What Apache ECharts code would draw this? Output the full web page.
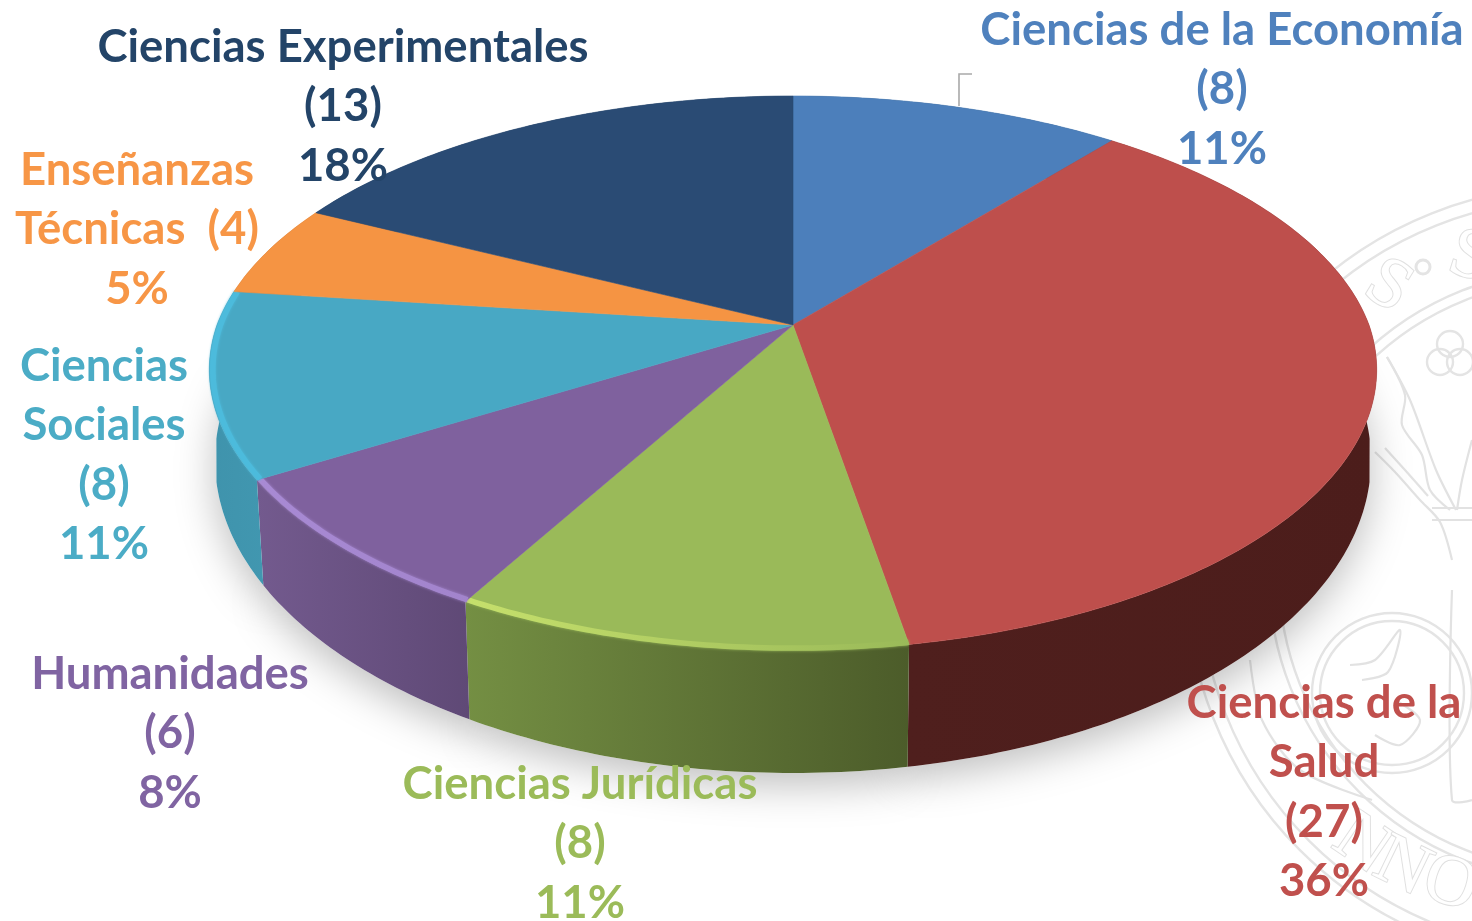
<!DOCTYPE html>
<html>
<head>
<meta charset="utf-8">
<title>Ramas de conocimiento</title>
<script src="https://cdn.jsdelivr.net/npm/echarts@6/dist/echarts.min.js"></script>
<style>
  html, body { margin: 0; padding: 0; background: #fff; }
  #chart { width: 1472px; height: 921px; }
</style>
</head>
<body>
<div id="chart"></div>
<script>
var categories = [
  "Ciencias de la Economía",
  "Ciencias de la Salud",
  "Ciencias Jurídicas",
  "Humanidades",
  "Ciencias Sociales",
  "Enseñanzas Técnicas",
  "Ciencias Experimentales",
];
var values = [8, 27, 8, 6, 8, 4, 13];
var labelLines = [
  ["Ciencias de la Economía"],
  ["Ciencias de la", "Salud"],
  ["Ciencias Jurídicas"],
  ["Humanidades"],
  ["Ciencias", "Sociales"],
  ["Enseñanzas", "Técnicas  (4)"],
  ["Ciencias Experimentales"],
];
var topColors = ["#4c7fbb", "#be4f4c", "#9aba59", "#7f619e", "#48a8c4", "#f59443", "#2a4b74"];
var textColors = ["#4f81bd", "#c0504d", "#9bbb59", "#8064a2", "#4bacc6", "#f79646", "#234468"];
var wallLeft = ["#2c4a6e", "#4f1f1d", "#748f43", "#735a8e", "#3f93ac", "#a8632b", "#1b3250"];
var wallRight = ["#2c4a6e", "#4c1d1b", "#4c5c2a", "#5f4976", "#4197b0", "#a8632b", "#1b3250"];
var bevelLeft = [null, null, "#c6e06c", "#a88ad4", "#4cbbdc", null, null];
var bevelRight = [null, null, "#9aba59", "#a284cc", "#4cbbdc", null, null];

// where each label block sits: centre x, y of first line
var labelPos = [
  [1222, 30],
  [1324, 703],
  [580, 784],
  [170, 674],
  [104, 366],
  [137, 170],
  [343, 47],
];
var lineStep = 59.6;

var total = values.reduce(function (a, b) { return a + b; }, 0);
var sliceData = [];
var running = 0;
for (var i = 0; i < values.length; i++) {
  sliceData.push({ name: categories[i], value: [running, running + values[i], i] });
  running += values[i];
}

// perspective of the tilted disc
var persp = 0.1733;
var squash = 0.4665;
// lower rim is its own ellipse, offsets from the disc apex
var rimCentreDrop = 135;
var rimHalfWidth = 578;
var rimHalfHeight = 313;
var rimShrink = 0.988;
var topCentreDrop = 48;

function toScreen(api, angleValue, bottom) {
  var c = api.coord([0, 0]);
  var p = api.coord([1, angleValue]);
  var dx = p[0] - c[0];
  var dy = p[1] - c[1];
  var r = Math.sqrt(dx * dx + dy * dy);
  var den = 1 - (persp * dy) / r;
  var sx = dx / den;
  var sy = (dy * squash) / den;
  // near side of the disc is a touch narrower than plain perspective
  if (dy > 0) {
    sx *= 1 - (0.012 * dy) / r;
  }
  if (bottom) {
    var bx = sx * rimShrink;
    var n = Math.min(1, Math.abs(bx) / rimHalfWidth);
    var side = sy >= topCentreDrop ? 1 : -1;
    return [c[0] + bx, c[1] + rimCentreDrop + side * rimHalfHeight * Math.sqrt(1 - n * n)];
  }
  return [c[0] + sx, c[1] + sy];
}

function arcPoints(api, from, to, bottom) {
  var pts = [];
  var steps = Math.max(2, Math.ceil((to - from) * 6));
  for (var s = 0; s <= steps; s++) {
    pts.push(toScreen(api, from + ((to - from) * s) / steps, bottom));
  }
  return pts;
}

function renderShadow(params, api) {
  var pts = arcPoints(api, api.value(0), api.value(1), true);
  pts.push([api.coord([0, 0])[0], api.coord([0, 0])[1] + rimCentreDrop]);
  return {
    type: "polygon",
    shape: { points: pts },
    style: {
      fill: "#fff",
      shadowBlur: 42,
      shadowColor: "rgba(0,0,0,0.26)",
      shadowOffsetY: 12,
    },
  };
}

function renderWall(params, api) {
  var idx = api.value(2);
  var topEdge = arcPoints(api, api.value(0), api.value(1), false);
  var bottomEdge = arcPoints(api, api.value(0), api.value(1), true).reverse();
  return {
    type: "polygon",
    shape: { points: topEdge.concat(bottomEdge) },
    style: {
      fill: new echarts.graphic.LinearGradient(0, 0, 1, 0, [
        { offset: 0, color: wallLeft[idx] },
        { offset: 1, color: wallRight[idx] },
      ]),
    },
  };
}

function renderTop(params, api) {
  var idx = api.value(2);
  var c = api.coord([0, 0]);
  var edge = arcPoints(api, api.value(0), api.value(1), false);
  var children = [
    {
      type: "polygon",
      shape: { points: [c].concat(edge) },
      style: { fill: topColors[idx], stroke: topColors[idx], lineWidth: 0.6 },
    },
  ];
  if (bevelLeft[idx]) {
    var inner = edge.map(function (p) {
      return [c[0] + (p[0] - c[0]) * 0.994, c[1] + (p[1] - c[1]) * 0.994];
    });
    children.push({
      type: "polyline",
      shape: { points: inner },
      style: {
        fill: "none",
        lineWidth: 5.5,
        stroke: new echarts.graphic.LinearGradient(0, 0, 1, 0, [
          { offset: 0, color: bevelLeft[idx] },
          { offset: 1, color: bevelRight[idx] },
        ]),
        shadowBlur: 3,
        shadowColor: bevelRight[idx],
      },
    });
  }
  return { type: "group", children: children };
}

function labelElements() {
  var out = [];
  for (var i = 0; i < categories.length; i++) {
    var lines = labelLines[i].slice();
    // Enseñanzas Técnicas carries its count on the name line
    if (lines[lines.length - 1].indexOf("(") < 0) {
      lines.push("(" + values[i] + ")");
    }
    lines.push(Math.round((values[i] / total) * 100) + "%");
    for (var j = 0; j < lines.length; j++) {
      out.push({
        type: "text",
        z: 20,
        x: labelPos[i][0],
        y: labelPos[i][1] + j * lineStep,
        style: {
          text: lines[j],
          fill: textColors[i],
          font: "bold 45.5px Lato, 'Open Sans', sans-serif",
          textAlign: "center",
          textVerticalAlign: "middle",
        },
      });
    }
  }
  return out;
}

// faint university seal behind the chart
function ring(cx, cy, r, w) {
  return {
    type: "circle",
    z: -5,
    shape: { cx: cx, cy: cy, r: r },
    style: { fill: "none", stroke: "#e4e4e4", lineWidth: w || 2.4 },
  };
}
function sealLine(points) {
  return {
    type: "polyline",
    z: -5,
    shape: { points: points, smooth: 0.3 },
    style: { fill: "none", stroke: "#e2e2e2", lineWidth: 2.2 },
  };
}
function sealLetter(ch, x, y, rot, size) {
  return {
    type: "text",
    z: -5,
    x: x,
    y: y,
    rotation: rot,
    style: {
      text: ch,
      fill: "#fff",
      stroke: "#e0e0e0",
      lineWidth: 2,
      font: size + "px 'Liberation Serif', serif",
      textAlign: "center",
      textVerticalAlign: "middle",
    },
  };
}
var sealParts = [
  ring(1575, 575, 389),
  ring(1575, 575, 376),
  ring(1575, 575, 306),
  ring(1575, 575, 296),
  ring(1392, 693, 80),
  ring(1392, 693, 72),
  ring(1423, 267, 7, 3),
  ring(1440, 362, 13),
  ring(1460, 362, 13),
  ring(1450, 344, 13),
  sealLetter("S", 1388, 287, -0.55, 72),
  sealLetter("S", 1470, 258, -0.3, 72),
  sealLetter("N", 1362, 845, -0.6, 72),
  sealLetter("N", 1402, 868, -0.45, 72),
  sealLetter("O", 1450, 885, -0.3, 72),
  sealLine([[1387, 357], [1410, 400], [1436, 470], [1456, 510]]),
  sealLine([[1387, 357], [1405, 395], [1402, 425], [1422, 455], [1430, 490], [1450, 510]]),
  sealLine([[1472, 440], [1462, 480], [1457, 510]]),
  sealLine([[1432, 508], [1472, 508]]),
  sealLine([[1432, 520], [1472, 520]]),
  sealLine([[1375, 452], [1395, 472], [1420, 500], [1440, 522], [1452, 560]]),
  sealLine([[1385, 448], [1405, 470], [1428, 496]]),
  sealLine([[1452, 590], [1452, 800], [1472, 800]]),
  sealLine([[1350, 665], [1375, 660], [1400, 630], [1388, 672], [1362, 680]]),
  sealLine([[1395, 700], [1420, 720], [1400, 745], [1375, 735]]),
  sealLine([[1250, 660], [1262, 720], [1300, 770], [1372, 800]]),
];

var leader = {
  type: "polyline",
  z: 5,
  shape: { points: [[972, 74], [959, 74], [959, 106]] },
  style: { fill: "none", stroke: "#a9a9a9", lineWidth: 1.6 },
};

var chart = echarts.init(document.getElementById("chart"));
var option = {
  animation: false,
  backgroundColor: "#fff",
  polar: { center: [793, 325], radius: 576 },
  angleAxis: { type: "value", min: 0, max: total, startAngle: 90, show: false },
  radiusAxis: { type: "value", min: 0, max: 1, show: false },
  graphic: sealParts.concat([leader]).concat(labelElements()),
  series: [
    { type: "custom", coordinateSystem: "polar", z: 2, silent: true, clip: false, renderItem: renderShadow, data: sliceData },
    { type: "custom", coordinateSystem: "polar", z: 3, silent: true, clip: false, renderItem: renderWall, data: sliceData },
    { type: "custom", coordinateSystem: "polar", z: 4, silent: true, clip: false, renderItem: renderTop, data: sliceData },
  ],
};
chart.setOption(option);
</script>
</body>
</html>
